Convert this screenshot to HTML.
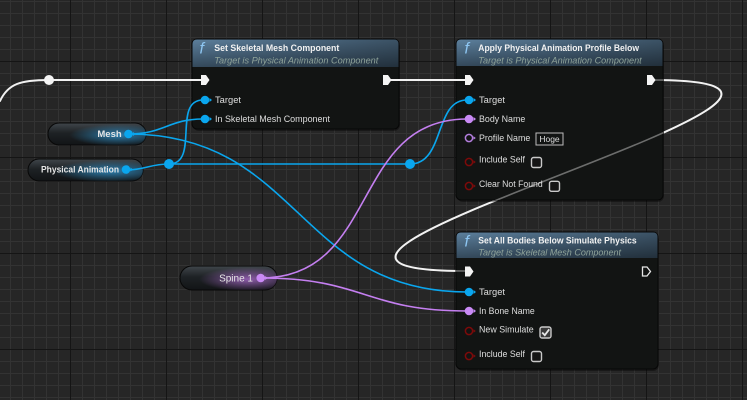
<!DOCTYPE html>
<html>
<head>
<meta charset="utf-8">
<style>
html,body{margin:0;padding:0;background:#262626;width:747px;height:400px;overflow:hidden}
svg{display:block}
text{font-family:"Liberation Sans",sans-serif}
</style>
</head>
<body>
<svg width="747" height="400" viewBox="0 0 747 400" xmlns="http://www.w3.org/2000/svg">
<defs>
  <pattern id="minor" width="12" height="12" patternUnits="userSpaceOnUse" x="10" y="1">
    <rect width="12" height="12" fill="#262626"/>
    <rect x="0" y="0" width="1" height="12" fill="#333333"/>
    <rect x="0" y="0" width="12" height="1" fill="#333333"/>
  </pattern>
  <pattern id="major" width="96" height="96" patternUnits="userSpaceOnUse" x="70" y="61">
    <rect x="0" y="0" width="1" height="96" fill="#151515"/>
    <rect x="0" y="0" width="96" height="1" fill="#151515"/>
  </pattern>
  <linearGradient id="hdrV" x1="0" y1="0" x2="0" y2="1">
    <stop offset="0" stop-color="#5c7f9c"/>
    <stop offset="1" stop-color="#34495b"/>
  </linearGradient>
  <linearGradient id="hdrH" x1="0" y1="0" x2="1" y2="0">
    <stop offset="0" stop-color="#000" stop-opacity="0"/>
    <stop offset="1" stop-color="#000" stop-opacity="0.35"/>
  </linearGradient>
  <linearGradient id="pillBase" x1="0" y1="0" x2="0" y2="1">
    <stop offset="0" stop-color="#40464b"/>
    <stop offset="0.45" stop-color="#1e2225"/>
    <stop offset="1" stop-color="#121416"/>
  </linearGradient>
  <radialGradient id="glowBlue" cx="0.72" cy="0.55" r="0.5">
    <stop offset="0" stop-color="#2f95d0" stop-opacity="0.8"/>
    <stop offset="1" stop-color="#2f95d0" stop-opacity="0"/>
  </radialGradient>
  <radialGradient id="glowPurple" cx="0.7" cy="0.55" r="0.5">
    <stop offset="0" stop-color="#b46fd8" stop-opacity="0.75"/>
    <stop offset="1" stop-color="#b46fd8" stop-opacity="0"/>
  </radialGradient>
  <clipPath id="nodesClip">
    <rect x="456" y="39" width="207" height="161" rx="5"/>
    <rect x="456" y="232" width="202" height="137" rx="5"/>
  </clipPath>
</defs>

<!-- grid -->
<rect width="747" height="400" fill="url(#minor)"/>
<rect width="747" height="400" fill="url(#major)"/>

<!-- exec loop wire (behind nodes) -->
<path d="M651,80 C954,80 163,271 466,271" fill="none" stroke="#f2f2f2" stroke-width="2"/>

<!-- ============ NODE 1 ============ -->
<rect x="193" y="41" width="207" height="90" rx="6" fill="#000" opacity="0.35"/>
<rect x="192" y="39" width="207" height="90" rx="5" fill="#121413" stroke="#070707" stroke-width="1"/>
<path d="M192.5,67 V44 Q192.5,39.5 197,39.5 H394 Q398.5,39.5 398.5,44 V67 Z" fill="url(#hdrV)"/>
<path d="M192.5,67 V44 Q192.5,39.5 197,39.5 H394 Q398.5,39.5 398.5,44 V67 Z" fill="url(#hdrH)"/>
<text x="199.5" y="53.5" font-family="Liberation Serif,serif" font-style="italic" font-size="16" fill="#8ec6f2">f</text>
<text x="214.3" y="50.8" font-size="9.5" font-weight="bold" fill="#f2f2f2" textLength="125" lengthAdjust="spacingAndGlyphs">Set Skeletal Mesh Component</text>
<text x="214.3" y="63.3" font-size="9" font-style="italic" fill="#8fa39a" textLength="164" lengthAdjust="spacingAndGlyphs">Target is Physical Animation Component</text>
<text x="215" y="103.2" font-size="9" fill="#dedede" textLength="26" lengthAdjust="spacingAndGlyphs">Target</text>
<text x="215" y="122.2" font-size="9" fill="#dedede" textLength="115" lengthAdjust="spacingAndGlyphs">In Skeletal Mesh Component</text>

<!-- ============ NODE 2 ============ -->
<rect x="457" y="41" width="207" height="161" rx="6" fill="#000" opacity="0.35"/>
<rect x="456" y="39" width="207" height="161" rx="5" fill="#121413" stroke="#070707" stroke-width="1"/>
<path d="M456.5,66 V44 Q456.5,39.5 461,39.5 H658 Q662.5,39.5 662.5,44 V66 Z" fill="url(#hdrV)"/>
<path d="M456.5,66 V44 Q456.5,39.5 461,39.5 H658 Q662.5,39.5 662.5,44 V66 Z" fill="url(#hdrH)"/>
<text x="464.5" y="53.5" font-family="Liberation Serif,serif" font-style="italic" font-size="16" fill="#8ec6f2">f</text>
<text x="478.3" y="50.8" font-size="9.5" font-weight="bold" fill="#f2f2f2" textLength="160.7" lengthAdjust="spacingAndGlyphs">Apply Physical Animation Profile Below</text>
<text x="478.3" y="63.3" font-size="9" font-style="italic" fill="#8fa39a" textLength="163.4" lengthAdjust="spacingAndGlyphs">Target is Physical Animation Component</text>
<text x="479" y="103.2" font-size="9" fill="#dedede" textLength="26" lengthAdjust="spacingAndGlyphs">Target</text>
<text x="479" y="122.2" font-size="9" fill="#dedede" textLength="46.3" lengthAdjust="spacingAndGlyphs">Body Name</text>
<text x="479" y="140.8" font-size="9" fill="#dedede" textLength="51.3" lengthAdjust="spacingAndGlyphs">Profile Name</text>
<rect x="536" y="133" width="27" height="12" fill="none" stroke="#bdbdbd" stroke-width="1"/>
<text x="549.5" y="142.2" font-size="8.5" fill="#dedede" text-anchor="middle">Hoge</text>
<text x="479" y="162.3" font-size="9" fill="#dedede" textLength="46" lengthAdjust="spacingAndGlyphs">Include Self</text>
<rect x="531.5" y="157.5" width="10" height="10" rx="2" fill="#151515" stroke="#c9c9c9" stroke-width="1.4"/>
<text x="479" y="186.8" font-size="9" fill="#dedede" textLength="63.7" lengthAdjust="spacingAndGlyphs">Clear Not Found</text>
<rect x="549.5" y="181.3" width="10" height="10" rx="2" fill="#151515" stroke="#c9c9c9" stroke-width="1.4"/>

<!-- ============ NODE 3 ============ -->
<rect x="457" y="234" width="202" height="137" rx="6" fill="#000" opacity="0.35"/>
<rect x="456" y="232" width="202" height="137" rx="5" fill="#121413" stroke="#070707" stroke-width="1"/>
<path d="M456.5,258 V237 Q456.5,232.5 461,232.5 H653 Q657.5,232.5 657.5,237 V258 Z" fill="url(#hdrV)"/>
<path d="M456.5,258 V237 Q456.5,232.5 461,232.5 H653 Q657.5,232.5 657.5,237 V258 Z" fill="url(#hdrH)"/>
<text x="464.5" y="246.5" font-family="Liberation Serif,serif" font-style="italic" font-size="16" fill="#8ec6f2">f</text>
<text x="478.3" y="243.5" font-size="9.5" font-weight="bold" fill="#f2f2f2" textLength="158.4" lengthAdjust="spacingAndGlyphs">Set All Bodies Below Simulate Physics</text>
<text x="478.3" y="255.5" font-size="9" font-style="italic" fill="#8fa39a" textLength="142.7" lengthAdjust="spacingAndGlyphs">Target is Skeletal Mesh Component</text>
<text x="479" y="294.9" font-size="9" fill="#dedede" textLength="26" lengthAdjust="spacingAndGlyphs">Target</text>
<text x="479" y="313.9" font-size="9" fill="#dedede" textLength="55.7" lengthAdjust="spacingAndGlyphs">In Bone Name</text>
<text x="479" y="332.5" font-size="9" fill="#dedede" textLength="54.7" lengthAdjust="spacingAndGlyphs">New Simulate</text>
<rect x="540" y="327" width="11" height="11" rx="2" fill="#3a3a3a" stroke="#c9c9c9" stroke-width="1.4"/>
<polyline points="542.2,332.5 544.8,335.2 549.2,329.3" fill="none" stroke="#e6e6e6" stroke-width="1.8"/>
<text x="479" y="357.2" font-size="9" fill="#dedede" textLength="46" lengthAdjust="spacingAndGlyphs">Include Self</text>
<rect x="531.5" y="351.5" width="10" height="10" rx="2" fill="#151515" stroke="#c9c9c9" stroke-width="1.4"/>

<!-- dim part of loop wire seen through nodes -->
<path d="M651,80 C954,80 163,271 466,271" fill="none" stroke="#ffffff" stroke-opacity="0.38" stroke-width="1.6" clip-path="url(#nodesClip)"/>

<!-- ============ VARIABLE PILLS ============ -->
<!-- Mesh -->
<rect x="48" y="123" width="98" height="22" rx="11" fill="url(#pillBase)" stroke="#080808" stroke-width="1"/>
<rect x="48" y="123" width="98" height="22" rx="11" fill="url(#glowBlue)"/>
<text x="121.7" y="136.8" font-size="9.5" font-weight="bold" fill="#e6e6e6" text-anchor="end">Mesh</text>
<!-- Physical Animation -->
<rect x="28" y="159" width="115" height="22" rx="11" fill="url(#pillBase)" stroke="#080808" stroke-width="1"/>
<rect x="28" y="159" width="115" height="22" rx="11" fill="url(#glowBlue)"/>
<text x="41" y="172.6" font-size="9.5" font-weight="bold" fill="#e6e6e6" textLength="78" lengthAdjust="spacingAndGlyphs">Physical Animation</text>
<!-- Spine 1 -->
<rect x="180" y="266" width="97" height="24" rx="12" fill="url(#pillBase)" stroke="#080808" stroke-width="1"/>
<rect x="180" y="266" width="97" height="24" rx="12" fill="url(#glowPurple)"/>
<text x="253" y="281.5" font-size="10" fill="#e6e6e6" text-anchor="end">Spine 1</text>

<!-- ============ WIRES (on top) ============ -->
<g fill="none" stroke-linecap="round">
  <!-- exec -->
  <path d="M0,101 C8,84 20,80 49,80 L201,80" stroke="#f2f2f2" stroke-width="2"/>
  <path d="M391,80 L465,80" stroke="#f2f2f2" stroke-width="2"/>
  <!-- blue -->
  <path d="M126,170 C145,170 150,164 169,164 L410,164" stroke="#0aa6ee" stroke-width="1.6"/>
  <path d="M169,164 C200,164 172,100 203,100" stroke="#0aa6ee" stroke-width="1.6"/>
  <path d="M410,164 C445,164 434,100 467,100" stroke="#0aa6ee" stroke-width="1.6"/>
  <path d="M128,134 C165,134 168,119 203,119" stroke="#0aa6ee" stroke-width="1.6"/>
  <path d="M128,134 C300,134 297,292 467,292" stroke="#0aa6ee" stroke-width="1.6"/>
  <!-- purple -->
  <path d="M261,278 C380,278 350,119 467,119" stroke="#c47ff0" stroke-width="1.6"/>
  <path d="M261,278 C365,278 365,311 467,311" stroke="#c47ff0" stroke-width="1.6"/>
</g>

<!-- knots -->
<circle cx="49" cy="80" r="5" fill="#f4f4f4"/>
<circle cx="169" cy="164" r="5" fill="#0aa6ee"/>
<circle cx="410" cy="164" r="5" fill="#0aa6ee"/>

<!-- ============ PINS ============ -->
<!-- exec pins -->
<path d="M201,75 H206 L209.5,80 L206,85 H201 Z" fill="#f4f4f4"/>
<path d="M383,75 H388 L391.5,80 L388,85 H383 Z" fill="#f4f4f4"/>
<path d="M465,75 H470 L473.5,80 L470,85 H465 Z" fill="#f4f4f4"/>
<path d="M647,75 H652 L655.5,80 L652,85 H647 Z" fill="#f4f4f4"/>
<path d="M465,266.5 H470 L473.5,271.5 L470,276.5 H465 Z" fill="#f4f4f4"/>
<path d="M642.5,267 H647 L650.5,271.5 L647,276 H642.5 Z" fill="none" stroke="#e6e6e6" stroke-width="1.3"/>

<!-- data pins filled -->
<g>
  <circle cx="205" cy="100" r="4.3" fill="#0aa6ee"/><path d="M209.5,98 L212,100 L209.5,102 Z" fill="#0aa6ee"/>
  <circle cx="205" cy="119" r="4.3" fill="#0aa6ee"/><path d="M209.5,117 L212,119 L209.5,121 Z" fill="#0aa6ee"/>
  <circle cx="469" cy="100" r="4.3" fill="#0aa6ee"/><path d="M473.5,98 L476,100 L473.5,102 Z" fill="#0aa6ee"/>
  <circle cx="469" cy="119" r="4.3" fill="#c98af5"/><path d="M473.5,117 L476,119 L473.5,121 Z" fill="#c98af5"/>
  <circle cx="469" cy="292" r="4.3" fill="#0aa6ee"/><path d="M473.5,290 L476,292 L473.5,294 Z" fill="#0aa6ee"/>
  <circle cx="469" cy="311" r="4.3" fill="#c98af5"/><path d="M473.5,309 L476,311 L473.5,313 Z" fill="#c98af5"/>
  <!-- pill pins -->
  <circle cx="128.5" cy="134" r="4.3" fill="#0aa6ee"/><path d="M133,132 L135.5,134 L133,136 Z" fill="#0aa6ee"/>
  <circle cx="126" cy="169.5" r="4.3" fill="#0aa6ee"/><path d="M130.5,167.5 L133,169.5 L130.5,171.5 Z" fill="#0aa6ee"/>
  <circle cx="260.7" cy="278" r="4.3" fill="#c98af5"/><path d="M265.2,276 L267.7,278 L265.2,280 Z" fill="#c98af5"/>
</g>
<!-- hollow pins -->
<circle cx="469" cy="138" r="3.6" fill="none" stroke="#b27ddc" stroke-width="1.5"/><path d="M473.5,136.3 L475.8,138 L473.5,139.7 Z" fill="#b27ddc"/>
<circle cx="469" cy="162" r="3.6" fill="none" stroke="#7d0a0a" stroke-width="1.5"/><path d="M473.5,160.3 L475.8,162 L473.5,163.7 Z" fill="#7d0a0a"/>
<circle cx="469" cy="186" r="3.6" fill="none" stroke="#7d0a0a" stroke-width="1.5"/><path d="M473.5,184.3 L475.8,186 L473.5,187.7 Z" fill="#7d0a0a"/>
<circle cx="469" cy="331" r="3.6" fill="none" stroke="#7d0a0a" stroke-width="1.5"/><path d="M473.5,329.3 L475.8,331 L473.5,332.7 Z" fill="#7d0a0a"/>
<circle cx="469" cy="356" r="3.6" fill="none" stroke="#7d0a0a" stroke-width="1.5"/><path d="M473.5,354.3 L475.8,356 L473.5,357.7 Z" fill="#7d0a0a"/>
</svg>
</body>
</html>
